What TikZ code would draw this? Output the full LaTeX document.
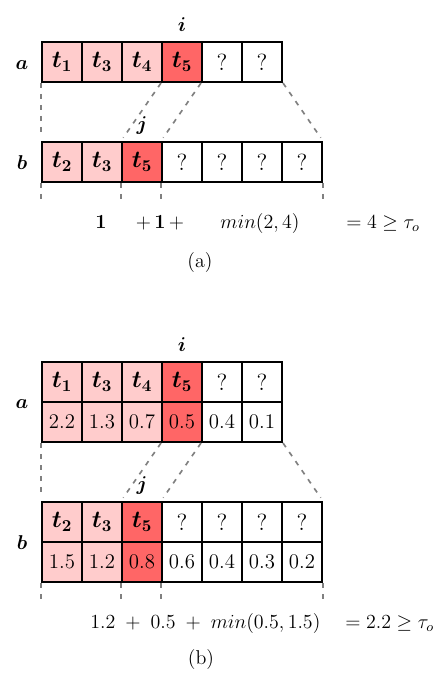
\documentclass[tikz,border=0pt]{standalone}
\usepackage{amssymb}
\usepackage{bm}
\usepackage{xcolor}
\usepackage{tikz}
\usetikzlibrary{positioning}

\definecolor{rosa}{RGB}{255,204,204}
\definecolor{rosso}{RGB}{255,102,102}

\begin{document}
\begin{tikzpicture}[
      x=0.6pt, y=-0.6pt,
      lbl/.style={font=\fontsize{12}{14}\selectfont},
      didasc/.style={font=\fontsize{12}{14}\selectfont},
      cella/.style={draw=black, line width=1.2pt, minimum size=24pt, inner sep=0pt, font=\fontsize{14}{16}\selectfont},
      val/.style={font=\fontsize{12.5}{14}\selectfont},
      bianca/.style={cella, fill=white},
      chiara/.style={cella, fill=rosa},
      scura/.style={cella, fill=rosso},
      tratto/.style={gray, line width=1pt, dash pattern=on 3pt off 3.6pt}
    ]
    \useasboundingbox (0,0) rectangle (445,692);

    % (a) Sequenze a e b
    \foreach \lab/\col [count=\k] in {{$\bm{t_1}$}/chiara, {$\bm{t_3}$}/chiara, {$\bm{t_4}$}/chiara, {$\bm{t_5}$}/scura, ?/bianca, ?/bianca}
      \node[style=\col] (a\k) at (22+40*\k, 62) {\lab};
    \foreach \lab/\col [count=\k] in {{$\bm{t_2}$}/chiara, {$\bm{t_3}$}/chiara, {$\bm{t_5}$}/scura, ?/bianca, ?/bianca, ?/bianca, ?/bianca}
      \node[style=\col] (b\k) at (22+40*\k, 162) {\lab};

    % Etichette
    \node[lbl] (la) at (22,65) {$\bm{a}$};
    \node[lbl] (lb) at (22,163) {$\bm{b}$};
    \node[lbl, above=2pt of a4] (li) {$\bm{i}$};
    \node[lbl, above=0.5pt of b3] (lj) {$\bm{j}$};

    % Corrispondenze tratteggiate
    \draw[tratto, shorten >=2.4pt] (a1.south west) -- (b1.north west);
    \draw[tratto, shorten >=2.4pt] (a4.south west) -- (b3.north west);
    \draw[tratto, shorten >=2.4pt] (a5.south west) -- (b4.north west);
    \draw[tratto, shorten >=2.4pt] (a6.south east) -- (b7.north east);
    \foreach \n/\p in {b1/south west, b3/south west, b4/south west, b7/south east}
      \draw[tratto] (\n.\p) -- ++(0,18);

    % Somma
    \node[lbl, anchor=base] (s1) at (101,229) {$\mathbf{1}$};
    \node[lbl, anchor=base] (s2) at (160,229) {$+\,\mathbf{1}\,+$};
    \node[lbl, anchor=base] (s3) at (260,229) {$min(2,4)$};
    \node[lbl, anchor=base] (s4) at (383,229) {$=4\geq\tau_o$};
    \node[didasc, anchor=base] (capa) at (200,267) {(a)};

    % (b) Sequenze con punteggi
    \foreach \lab/\num/\col [count=\k] in {{$\bm{t_1}$}/2.2/chiara, {$\bm{t_3}$}/1.3/chiara, {$\bm{t_4}$}/0.7/chiara, {$\bm{t_5}$}/0.5/scura, ?/0.4/bianca, ?/0.1/bianca}
    {
      \node[style=\col] (A\k) at (22+40*\k, 382) {\lab};
      \node[style=\col, val] (AV\k) at (22+40*\k, 422) {\num};
    }
    \foreach \lab/\num/\col [count=\k] in {{$\bm{t_2}$}/1.5/chiara, {$\bm{t_3}$}/1.2/chiara, {$\bm{t_5}$}/0.8/scura, ?/0.6/bianca, ?/0.4/bianca, ?/0.3/bianca, ?/0.2/bianca}
    {
      \node[style=\col] (B\k) at (22+40*\k, 522) {\lab};
      \node[style=\col, val] (BV\k) at (22+40*\k, 562) {\num};
    }

    % Etichette
    \node[lbl] (lA) at (22,404) {$\bm{a}$};
    \node[lbl] (lB) at (22,543) {$\bm{b}$};
    \node[lbl, above=2pt of A4] (lI) {$\bm{i}$};
    \node[lbl, above=0.5pt of B3] (lJ) {$\bm{j}$};

    % Corrispondenze tratteggiate
    \draw[tratto, shorten >=2.4pt] (AV1.south west) -- (B1.north west);
    \draw[tratto, shorten >=2.4pt] (AV4.south west) -- (B3.north west);
    \draw[tratto, shorten >=2.4pt] (AV5.south west) -- (B4.north west);
    \draw[tratto, shorten >=2.4pt] (AV6.south east) -- (B7.north east);
    \foreach \n/\p in {BV1/south west, BV3/south west, BV4/south west, BV7/south east}
      \draw[tratto] (\n.\p) -- ++(0,18);

    % Somma
    \node[lbl, anchor=base west, inner sep=0pt] (S1) at (90,628) {$1.2\;+\;0.5\;+\;min(0.5,1.5)$};
    \node[lbl, anchor=base west, inner sep=0pt] (S2) at (345,628) {$=2.2\geq\tau_o$};
    \node[didasc, anchor=base] (capb) at (201,664) {(b)};
  \end{tikzpicture}
\end{document}
